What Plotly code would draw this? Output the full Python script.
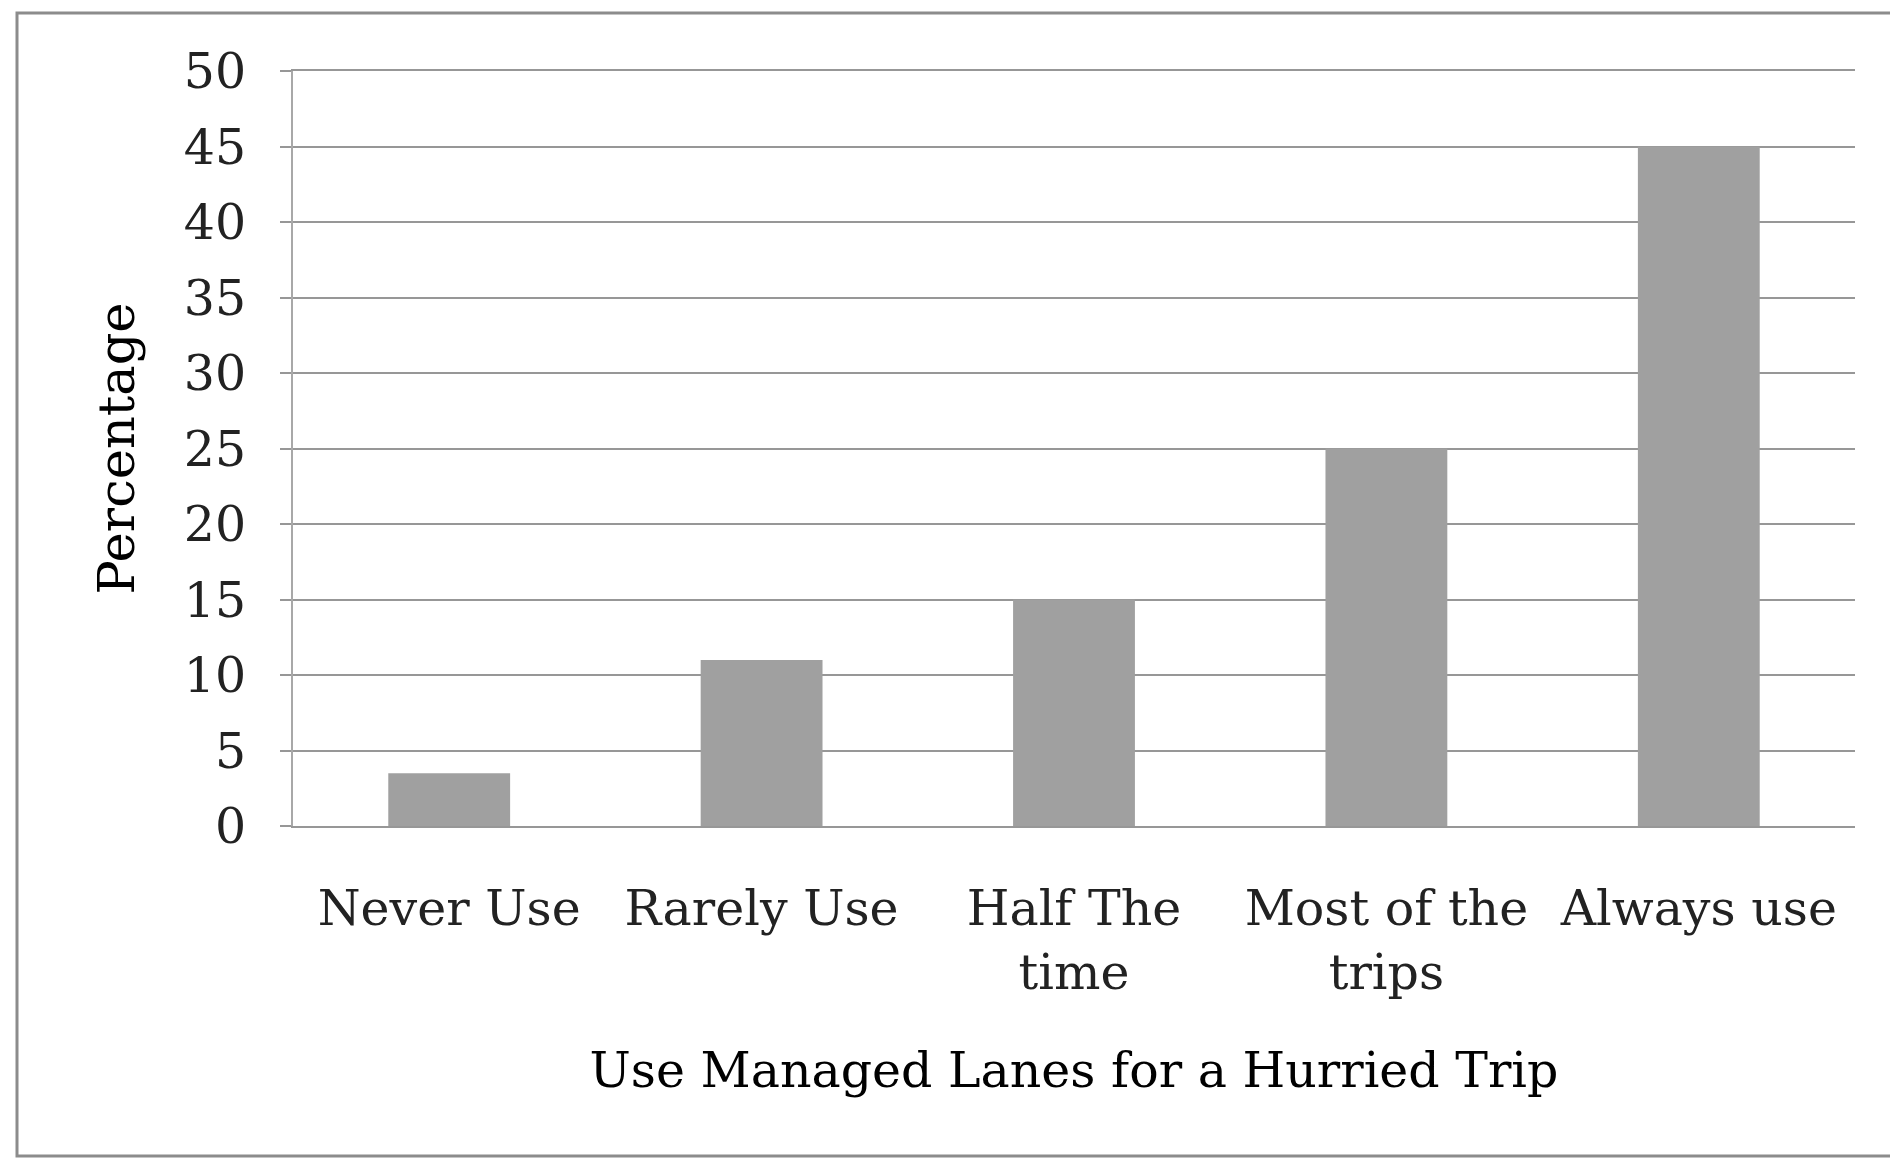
import plotly.graph_objects as go

categories = ["Never Use", "Rarely Use", "Half The<br>time", "Most of the<br>trips", "Always use"]
percentages = [3.5, 11, 15, 25, 45]
y_ticks = [0, 5, 10, 15, 20, 25, 30, 35, 40, 45, 50]

W, H = 1898, 1159
OFF = 8  # browser body margin
L, R, T, B = 293 - OFF, 43 + OFF, 71 - OFF, 333 + OFF

fig = go.Figure(go.Bar(
    x=categories, y=percentages,
    marker=dict(color="#a0a0a0", line=dict(width=0)),
))

font_main = "DejaVu Serif"
fig.update_layout(
    width=W, height=H,
    margin=dict(l=L, r=R, t=T, b=B, pad=0),
    plot_bgcolor="white", paper_bgcolor="white",
    bargap=0.61,
    showlegend=False,
    font=dict(family=font_main, color="#1a1a1a"),
)
fig.update_yaxes(
    range=[0, 50], tickvals=y_ticks, ticktext=[str(v) for v in y_ticks],
    showgrid=True, gridcolor="#979797", gridwidth=2,
    showline=True, linecolor="#a8a8a8", linewidth=2,
    ticks="outside", ticklen=11, tickcolor="#979797", tickwidth=2,
    tickfont=dict(family=font_main, size=49, color="#222"),
    ticklabelstandoff=24,
    zeroline=False,
    title=dict(text="Percentage", font=dict(family=font_main, size=51, color="#000"), standoff=33),
)
fig.update_xaxes(
    showline=True, linecolor="#979797", linewidth=2, mirror=True,
    ticks="", showgrid=False,
    tickfont=dict(family=font_main, size=49, color="#222"),
    ticklabelstandoff=38,
    title=dict(text="Use Managed Lanes for a Hurried Trip", font=dict(family=font_main, size=49, color="#000"), standoff=53),
)

pw = W - L - R
ph = H - T - B
def px_x(p):
    return (p - OFF - L) / pw
def px_y(p):
    return (H - B - (p - OFF)) / ph

fig.add_shape(type="rect", xref="paper", yref="paper",
              x0=px_x(17), x1=px_x(1920), y0=px_y(1156), y1=px_y(13),
              line=dict(color="#8c8c8c", width=3), fillcolor="rgba(0,0,0,0)", layer="below")

fig.write_html("out.html")
